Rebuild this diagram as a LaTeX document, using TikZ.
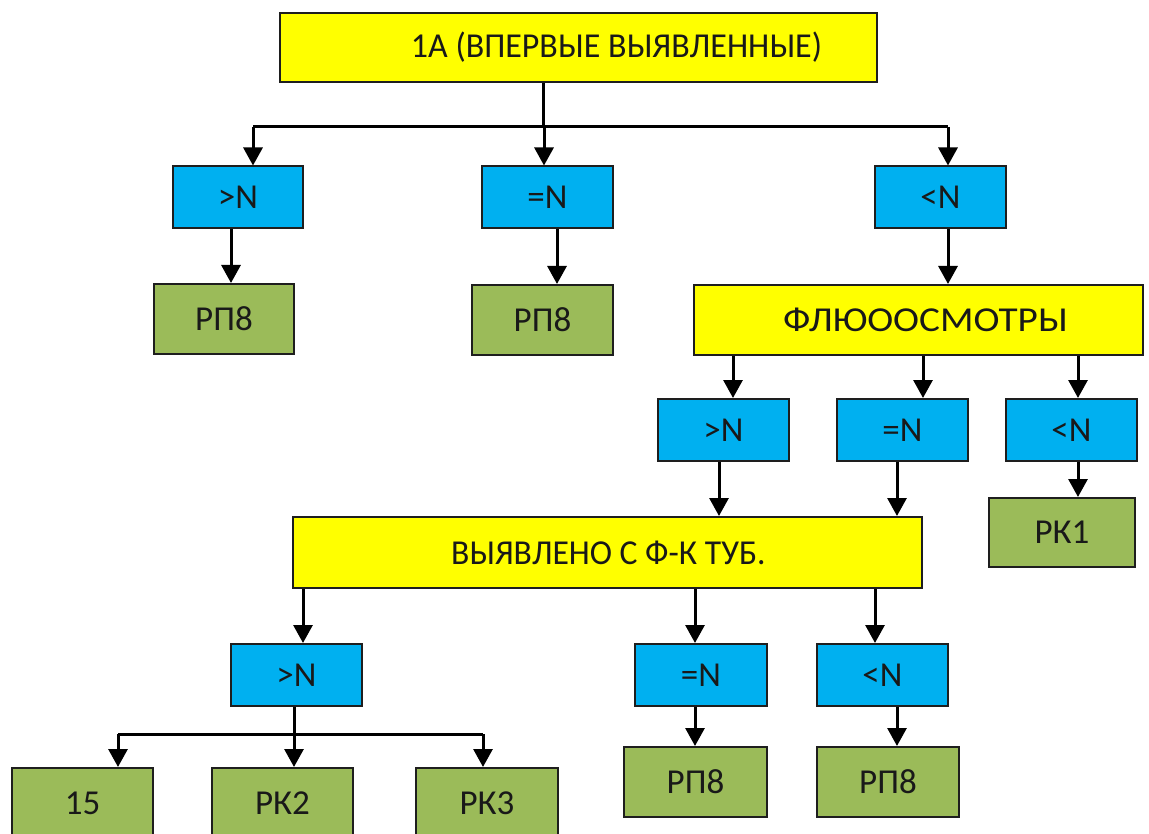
\documentclass[tikz,border=0pt]{standalone}
\usepackage{fontspec}
\usepackage{graphicx}
\setmainfont{Carlito}
\usetikzlibrary{arrows.meta,calc}
\definecolor{boxyellow}{HTML}{FFFF00}
\definecolor{boxblue}{HTML}{00B0F0}
\definecolor{boxgreen}{HTML}{9BBB59}
\definecolor{edgegray}{HTML}{1E1E1E}
\begin{document}
\begin{tikzpicture}[x=1pt,y=-1pt,
  basebox/.style={draw=edgegray,line width=2pt,rectangle,inner sep=0pt,
    font=\fontsize{35}{40}\selectfont,text=black!90},
  ybox/.style={basebox,fill=boxyellow},
  bbox/.style={basebox,fill=boxblue,minimum width=131pt,minimum height=62pt},
  gbox/.style={basebox,fill=boxgreen,minimum width=141pt,minimum height=70pt},
  arr/.style={line width=3pt,-{Triangle[width=19pt,length=18pt]}},
  ln/.style={line width=3pt}]
\fill[white] (0,0) rectangle (1149,834);
\useasboundingbox (0,0) rectangle (1149,834);

% level 0
\node[ybox,minimum width=597pt,minimum height=69pt] (top) at (578.5,47.5)
  {\hspace*{76pt}\scalebox{0.97}[1]{1А (ВПЕРВЫЕ ВЫЯВЛЕННЫЕ)}};

% level 1
\node[bbox,minimum width=130pt] (b1) at (238,197.5) {>N};
\node[bbox] (b2) at (547.5,197.5) {=N};
\node[bbox] (b3) at (940.5,197.5) {<N};
\node[gbox,minimum width=140pt] (g1) at (224,319) {РП8};
\node[gbox] (g2) at (542.5,320) {РП8};
\node[ybox,minimum width=449pt,minimum height=70pt] (fl) at (918.5,320)
  {\hspace*{14pt}\scalebox{1.12}[1]{ФЛЮООСМОТРЫ}};

% level 2
\node[bbox] (c1) at (723.5,430) {>N};
\node[bbox] (c2) at (902.5,430) {=N};
\node[bbox] (c3) at (1071.5,430) {<N};
\node[gbox,minimum width=146pt,minimum height=69pt] (r1) at (1062,532.5) {РК1};
\node[ybox,minimum width=629pt,minimum height=71pt] (vy) at (607.5,552.5)
  {\hspace*{2pt}\scalebox{0.96}[1]{ВЫЯВЛЕНО С Ф-К ТУБ.}};

% level 3
\node[bbox] (d1) at (296.5,675) {>N};
\node[bbox,minimum width=132pt] (d2) at (701,675) {=N};
\node[bbox] (d3) at (882.5,675) {<N};
\node[gbox,minimum width=143pt] (f1) at (695.5,782) {РП8};
\node[gbox,minimum width=142pt] (f2) at (888,782) {РП8};

% level 4
\node[gbox] (e1) at (82.5,803) {15};
\node[gbox] (e2) at (282.5,803) {РК2};
\node[gbox,minimum width=142pt] (e3) at (487,803) {РК3};

% connectors from the top box
\coordinate (t0) at ([xshift=-35.5pt]top.south);
\coordinate (tbus) at ($(t0)+(0,44)$);
\coordinate (a1) at ([xshift=15pt]b1.north);
\coordinate (a2) at ([xshift=-3.5pt]b2.north);
\coordinate (a3) at ([xshift=7.5pt]b3.north);
\draw[ln] (t0) -- (tbus);
\draw[ln] (tbus -| a1) -- (tbus -| a3);
\foreach \p in {a1,a2,a3} \draw[arr] (tbus -| \p) -- (\p);

% level 1 down
\coordinate (p1) at ([xshift=-7pt]b1.south);
\draw[arr] (p1) -- (p1 |- g1.north);
\coordinate (p2) at ([xshift=9.5pt]b2.south);
\draw[arr] (p2) -- (p2 |- g2.north);
\coordinate (p3) at ([xshift=7.5pt]b3.south);
\draw[arr] (p3) -- (p3 |- fl.north);

% from the fluoro box
\coordinate (q1) at ([xshift=9.5pt]c1.north);
\coordinate (q2) at ([xshift=20.5pt]c2.north);
\coordinate (q3) at ([xshift=6.5pt]c3.north);
\foreach \p in {q1,q2,q3} \draw[arr] (\p |- fl.south) -- (\p);

% level 2 down
\coordinate (u1) at ([xshift=-4.5pt]c1.south);
\draw[arr] (u1) -- (u1 |- vy.north);
\coordinate (u2) at ([xshift=-5.5pt]c2.south);
\draw[arr] (u2) -- (u2 |- vy.north);
\coordinate (u3) at ([xshift=6.5pt]c3.south);
\draw[arr] (u3) -- (u3 |- r1.north);

% from the detected box
\coordinate (v1) at ([xshift=6.5pt]d1.north);
\coordinate (v2) at ([xshift=-6pt]d2.north);
\coordinate (v3) at ([xshift=-7.5pt]d3.north);
\foreach \p in {v1,v2,v3} \draw[arr] (\p |- vy.south) -- (\p);

% level 3 down
\coordinate (w2) at ([xshift=-6pt]d2.south);
\draw[arr] (w2) -- (w2 |- f1.north);
\coordinate (w3) at ([xshift=14.5pt]d3.south);
\draw[arr] (w3) -- (w3 |- f2.north);

% split below the lower >N box
\coordinate (s0) at ([xshift=-2.5pt]d1.south);
\coordinate (sbus) at ($(s0)+(0,27)$);
\coordinate (h1) at ([xshift=35.5pt]e1.north);
\coordinate (h2) at ([xshift=11.5pt]e2.north);
\coordinate (h3) at ([xshift=-4pt]e3.north);
\draw[ln] (s0) -- (sbus);
\draw[ln] (sbus -| h1) -- (sbus -| h3);
\foreach \p in {h1,h2,h3} \draw[arr] (sbus -| \p) -- (\p);
\end{tikzpicture}
\end{document}
